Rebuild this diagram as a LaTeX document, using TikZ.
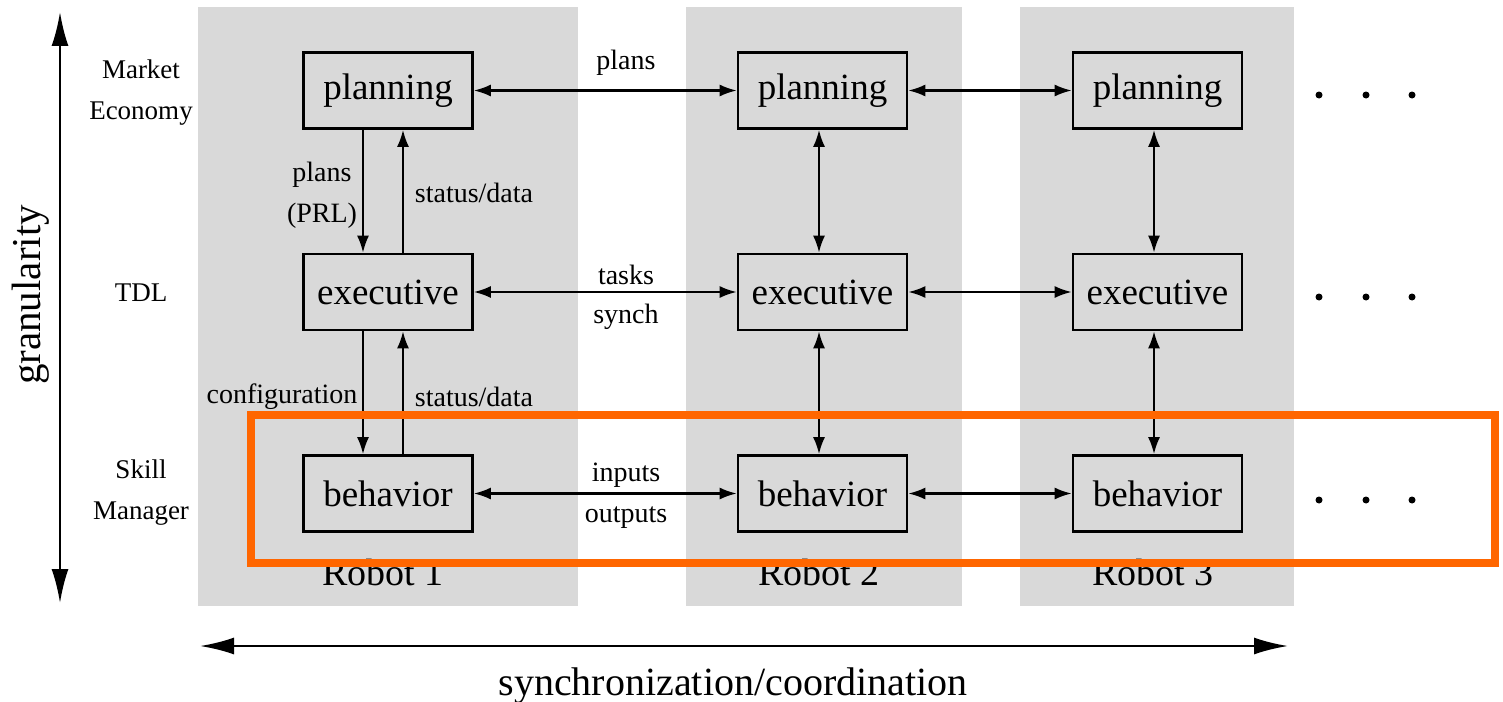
\documentclass[tikz,border=0pt]{standalone}
\usepackage{fontspec}
\setmainfont{Liberation Serif}
\usetikzlibrary{arrows.meta}
\definecolor{bggray}{RGB}{217,217,217}
\definecolor{hlorange}{RGB}{255,102,0}
\begin{document}
\begin{tikzpicture}[x=1pt,y=-1pt,
  modbox/.style={draw, line width=2.6pt, minimum width=169pt, minimum height=76pt, inner sep=0pt, font=\fontsize{37}{40}\selectfont},
  link/.style={line width=2.2pt, {Latex[length=17pt,width=12pt]}-{Latex[length=17pt,width=12pt]}},
  flow/.style={line width=2.2pt, -{Latex[length=17pt,width=12pt]}},
  axisarrow/.style={line width=2.4pt, {Latex[length=34pt,width=17pt]}-{Latex[length=34pt,width=17pt]}},
  lbl/.style={inner sep=0pt, font=\fontsize{28}{30}\selectfont},
  side/.style={inner sep=0pt, align=center, font=\fontsize{27}{41}\selectfont},
  robotlbl/.style={inner sep=0pt, anchor=base, font=\fontsize{38}{40}\selectfont},
  colbg/.style={fill=bggray},
  dotmark/.style={circle, fill=black, inner sep=0pt, minimum size=7pt}
]
\useasboundingbox (0,0) rectangle (1503,701);
% robot columns
\fill[colbg] (198,7) rectangle (578,606);
\fill[colbg] (686,7) rectangle (962,606);
\fill[colbg] (1020,7) rectangle (1294,606);
% boxes
\node[modbox] (p1) at (388,90.5) {planning};
\node[modbox] (e1) at (388,292) {executive};
\node[modbox] (b1) at (388,493.5) {behavior};
\node[modbox] (p2) at (822.5,90.5) {planning};
\node[modbox] (e2) at (822.5,292) {executive};
\node[modbox] (b2) at (822.5,493.5) {behavior};
\node[modbox] (p3) at (1157.5,90.5) {planning};
\node[modbox] (e3) at (1157.5,292) {executive};
\node[modbox] (b3) at (1157.5,493.5) {behavior};
% dots
\foreach \r/\yy in {p/95,e/297,b/500}{
  \node[dotmark] (\r d1) at (1319,\yy) {};
  \node[dotmark] (\r d2) at (1366,\yy) {};
  \node[dotmark] (\r d3) at (1412,\yy) {};
}
% robot 1 vertical links
\draw[flow] ([xshift=-25pt]p1.south) -- ([xshift=-25pt]e1.north);
\draw[flow] ([xshift=15pt]e1.north) -- ([xshift=15pt]p1.south);
\draw[flow] ([xshift=-25pt]e1.south) -- ([xshift=-25pt]b1.north);
\draw[flow] ([xshift=15pt]b1.north) -- ([xshift=15pt]e1.south);
% robots 2, 3 vertical links
\draw[link] ([xshift=-3.5pt]p2.south) -- ([xshift=-3.5pt]e2.north);
\draw[link] ([xshift=-3.5pt]e2.south) -- ([xshift=-3.5pt]b2.north);
\draw[link] ([xshift=-3.5pt]p3.south) -- ([xshift=-3.5pt]e3.north);
\draw[link] ([xshift=-3.5pt]e3.south) -- ([xshift=-3.5pt]b3.north);
% horizontal links
\draw[link] (p1.east) -- (p2.west);
\draw[link] (e1.east) -- (e2.west);
\draw[link] (b1.east) -- (b2.west);
\draw[link] (p2.east) -- (p3.west);
\draw[link] (e2.east) -- (e3.west);
\draw[link] (b2.east) -- (b3.west);
% link labels
\node[lbl] (lplans) at (322,175) {plans};
\node[lbl] (lprl) at (322,216) {(PRL)};
\node[lbl] (lsd1) at (474,193) {status/data};
\node[lbl] (lconf) at (282,397) {configuration};
\node[lbl] (lsd2) at (474,397) {status/data};
\node[lbl] (hplans) at (626,63) {plans};
\node[lbl] (htasks) at (626,275) {tasks};
\node[lbl] (hsynch) at (626,317) {synch};
\node[lbl] (hin) at (626,475) {inputs};
\node[lbl] (hout) at (626,518) {outputs};
% side labels
\node[side] (lme) at (141,93) {Market\\Economy};
\node[side] (ltdl) at (141,293) {TDL};
\node[side] (lsm) at (141,493) {Skill\\Manager};
% robot labels
\node[robotlbl] (r1) at (383,585) {Robot 1};
\node[robotlbl] (r2) at (819,585) {Robot 2};
\node[robotlbl] (r3) at (1153,585) {Robot 3};
% axes
\coordinate (gtop) at (60,12);
\coordinate (gbot) at (60,603);
\draw[axisarrow] (gtop) -- (gbot);
\node[rotate=90, inner sep=0pt, font=\fontsize{41}{44}\selectfont] (gran) at (31,295) {granularity};
\coordinate (sleft) at (200,646);
\coordinate (sright) at (1288,646);
\draw[axisarrow] (sleft) -- (sright);
\node[anchor=base, inner sep=0pt, font=\fontsize{40}{44}\selectfont] (sync) at (733,695) {synchronization/coordination};
% highlight
\draw[hlorange, line width=8pt] (251,415) rectangle (1495,563);
\end{tikzpicture}
\end{document}
